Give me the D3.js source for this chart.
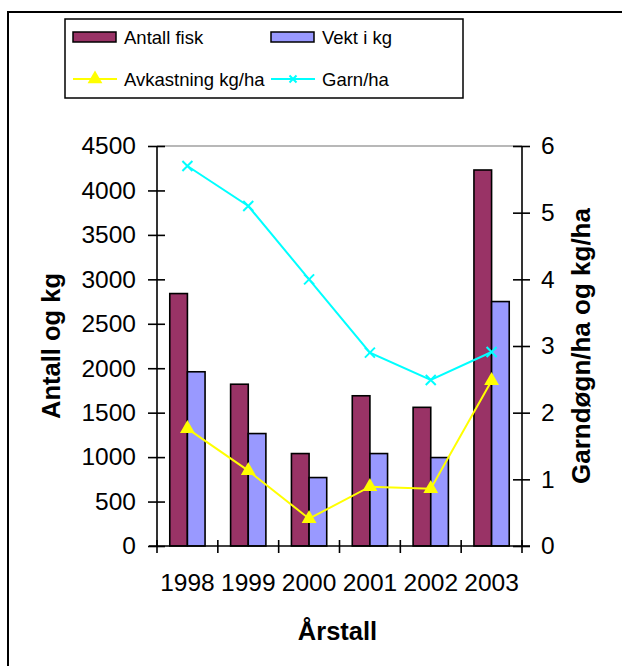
<!DOCTYPE html>
<html><head><meta charset="utf-8">
<script src="https://cdn.jsdelivr.net/npm/d3@7"></script>
<style>
html,body{margin:0;padding:0;background:#fff;}
svg{display:block;font-family:"Liberation Sans",Arial,sans-serif;}
</style></head>
<body>
<svg id="chart" width="622" height="666"></svg>
<script>
const years = ["1998","1999","2000","2001","2002","2003"];
const antallFisk = [2840, 1820, 1040, 1690, 1560, 4230];
const vektKg = [1960, 1265, 770, 1040, 995, 2750];
const avkastning = [1.76, 1.13, 0.41, 0.89, 0.86, 2.48];
const garnHa = [5.7, 5.1, 4.0, 2.9, 2.49, 2.91];
const leftTicks = [0,500,1000,1500,2000,2500,3000,3500,4000,4500];
const rightTicks = [0,1,2,3,4,5,6];

const svg = d3.select("#chart");
const L = 157, R = 522, T = 146, B = 546;

// outer frame
svg.append("path").attr("d","M8,680 L8,12 L640,12").attr("fill","none").attr("stroke","#000").attr("stroke-width",2);

const x = d3.scaleBand().domain(years).range([L,R]).paddingInner(0).paddingOuter(0);
const bw = x.bandwidth();
const barW = bw * 0.29;
const xs = d3.scaleBand().domain(["a","v"]).range([0, 2*barW]);
const yL = d3.scaleLinear().domain([0,4500]).range([B,T]);
const yR = d3.scaleLinear().domain([0,6]).range([B,T]);

// top plot border (gray)
svg.append("line").attr("x1",L).attr("x2",R).attr("y1",yL(4500)).attr("y2",yL(4500))
  .attr("stroke","#a0a0a0").attr("stroke-width",1.5);

// bars
const bars = [{key:"a",vals:antallFisk,color:"#993366"},{key:"v",vals:vektKg,color:"#9999FF"}];
bars.forEach(s=>{
  svg.append("g").selectAll("rect").data(years).join("rect")
    .attr("x",(d)=>x(d)+bw/2-barW+xs(s.key))
    .attr("y",(d,i)=>yL(s.vals[i]))
    .attr("width",xs.bandwidth())
    .attr("height",(d,i)=>B-yL(s.vals[i]))
    .attr("fill",s.color).attr("stroke","#000").attr("stroke-width",1.6);
});

// left axis
const gl = svg.append("g").attr("transform",`translate(${L},0)`)
  .call(d3.axisLeft(yL).tickValues(leftTicks).tickSize(9).tickPadding(12).tickFormat(d3.format("d")));
gl.selectAll(".tick line").attr("x2",-9).attr("x1",8).attr("stroke-width",1.6);
gl.select(".domain").attr("d",`M0,${B}V${T}`).attr("stroke-width",1.6);
gl.selectAll("text").attr("font-size",24.5).attr("fill","#000").attr("font-family","Liberation Sans, Arial");

// right axis
const gr = svg.append("g").attr("transform",`translate(${R},0)`)
  .call(d3.axisRight(yR).tickValues(rightTicks).tickSize(8).tickPadding(11).tickFormat(d3.format("d")));
gr.selectAll(".tick line").attr("x1",-9).attr("x2",8).attr("stroke-width",1.6);
gr.select(".domain").attr("d",`M0,${B}V${T}`).attr("stroke-width",1.6);
gr.selectAll("text").attr("font-size",24.5).attr("fill","#000").attr("font-family","Liberation Sans, Arial");

// bottom axis
const gb = svg.append("g").attr("transform",`translate(0,${B})`)
  .call(d3.axisBottom(x).tickSize(0).tickPadding(28));
gb.select(".domain").attr("d",`M${L-8},0H${R+8}`).attr("stroke-width",1.6);
gb.selectAll("text").attr("font-size",24.5).attr("fill","#000").attr("font-family","Liberation Sans, Arial");
const bounds = years.map(d=>x(d)).concat([x(years[years.length-1])+bw]);
gb.selectAll(".bnd").data(bounds).join("line").attr("class","bnd")
  .attr("x1",d=>d).attr("x2",d=>d).attr("y1",-6).attr("y2",7).attr("stroke","#000").attr("stroke-width",1.6);

// lines
const cx = d=>x(d)+bw/2;
const lineY = d3.line().x((d,i)=>cx(years[i])).y(d=>yR(d));
svg.append("path").datum(garnHa).attr("d",lineY).attr("fill","none").attr("stroke","#00FFFF").attr("stroke-width",2);
svg.append("path").datum(avkastning).attr("d",lineY).attr("fill","none").attr("stroke","#FFFF00").attr("stroke-width",2);

const crossPath = (s)=>`M${-s},${-s}L${s},${s}M${-s},${s}L${s},${-s}`;
svg.append("g").selectAll("path").data(garnHa).join("path")
  .attr("transform",(d,i)=>`translate(${cx(years[i])},${yR(d)})`)
  .attr("d",crossPath(5)).attr("stroke","#00FFFF").attr("stroke-width",2).attr("fill","none");
const tri = d3.symbol().type(d3.symbolTriangle).size(95);
svg.append("g").selectAll("path").data(avkastning).join("path")
  .attr("transform",(d,i)=>`translate(${cx(years[i])},${yR(d)})`)
  .attr("d",tri).attr("fill","#FFFF00");

// axis titles
svg.append("text").attr("transform",`translate(60,${(T+B)/2}) rotate(-90)`)
  .attr("text-anchor","middle").attr("font-size",25.5).attr("font-weight","bold").text("Antall og kg");
svg.append("text").attr("transform",`translate(590,${(T+B)/2}) rotate(-90)`)
  .attr("text-anchor","middle").attr("font-size",26).attr("font-weight","bold").text("Garndøgn/ha og kg/ha");
svg.append("text").attr("x",(L+R)/2 - 2).attr("y",640)
  .attr("text-anchor","middle").attr("font-size",25.5).attr("font-weight","bold").text("Årstall");

// legend
const lg = svg.append("g");
lg.append("rect").attr("x",65).attr("y",19).attr("width",398).attr("height",79)
  .attr("fill","#fff").attr("stroke","#000").attr("stroke-width",1.5);
const legItems = [
  {label:"Antall fisk", type:"bar", color:"#993366", x:73, y:37},
  {label:"Vekt i kg", type:"bar", color:"#9999FF", x:271, y:37},
  {label:"Avkastning kg/ha", type:"tri", color:"#FFFF00", x:73, y:79},
  {label:"Garn/ha", type:"cross", color:"#00FFFF", x:271, y:79}
];
legItems.forEach(it=>{
  if(it.type==="bar"){
    lg.append("rect").attr("x",it.x).attr("y",it.y-5).attr("width",43).attr("height",10)
      .attr("fill",it.color).attr("stroke","#000").attr("stroke-width",1.5);
  } else {
    lg.append("line").attr("x1",it.x).attr("x2",it.x+44).attr("y1",it.y).attr("y2",it.y)
      .attr("stroke",it.color).attr("stroke-width",2);
    const m = lg.append("path").attr("transform",`translate(${it.x+22},${it.y})`);
    if(it.type==="tri") m.attr("d",tri).attr("fill",it.color);
    else m.attr("d",crossPath(3.5)).attr("stroke",it.color).attr("stroke-width",2);
  }
  lg.append("text").attr("x",it.x+51).attr("y",it.y+6.5).attr("font-size",18.5).text(it.label);
});
</script>
</body></html>
